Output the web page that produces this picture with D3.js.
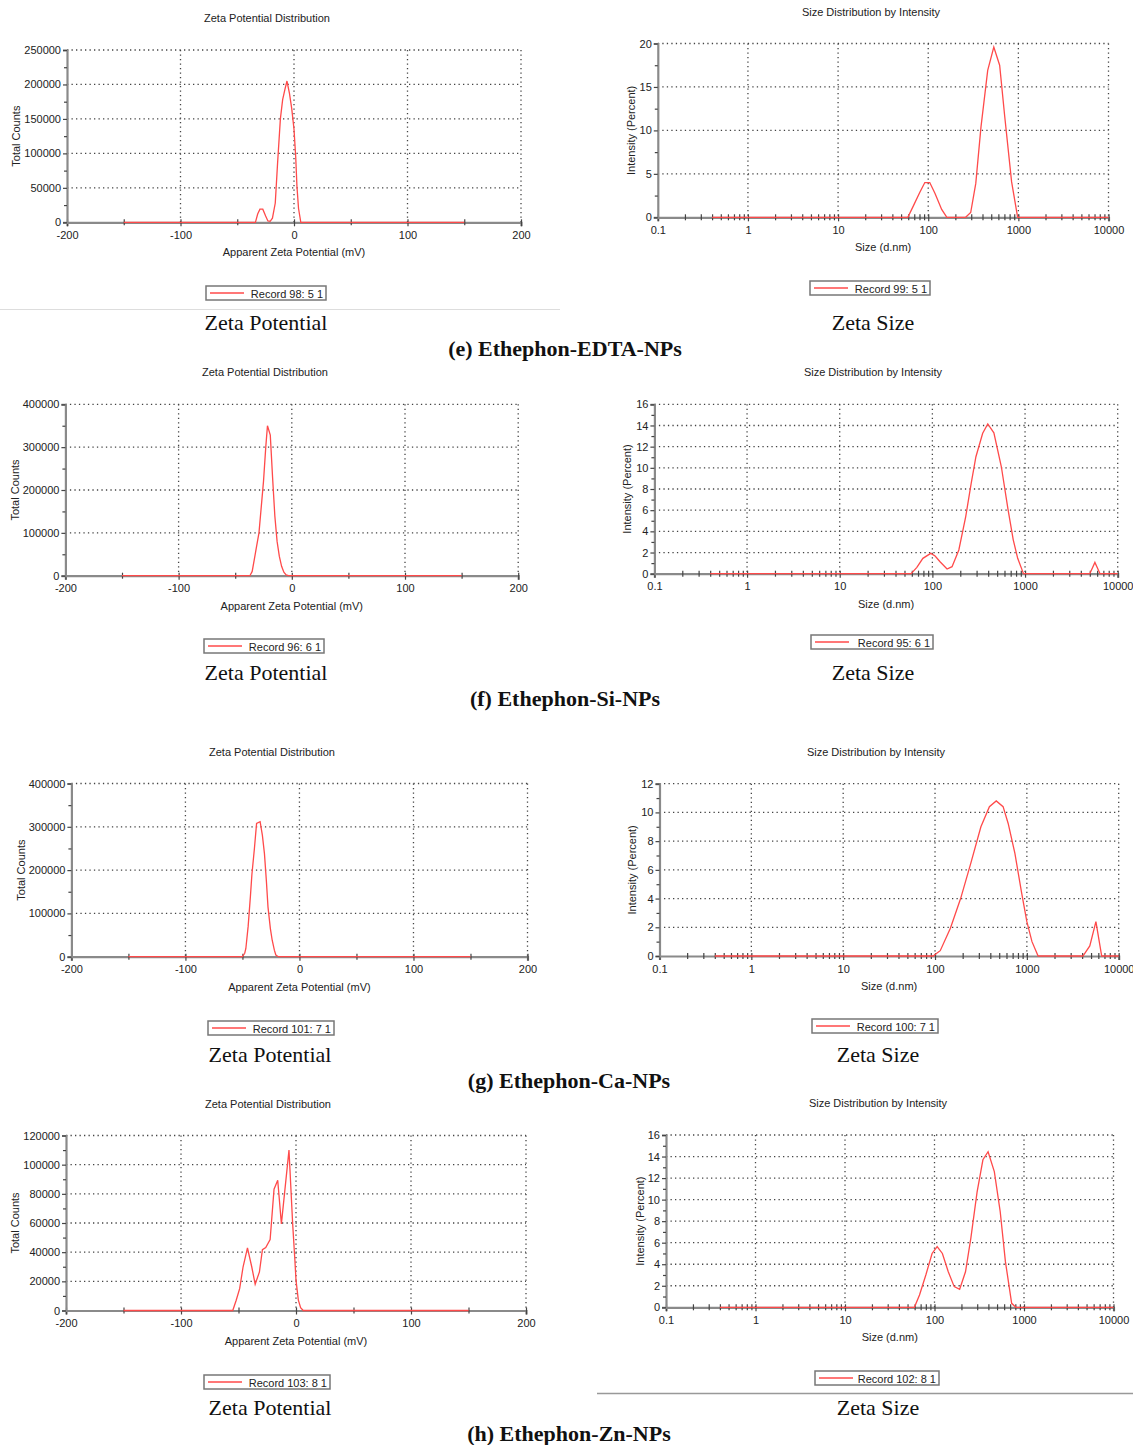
<!DOCTYPE html>
<html>
<head>
<meta charset="utf-8">
<script src="https://cdn.jsdelivr.net/npm/d3@7"></script>
<style>
  body { margin: 0; background: #fff; }
  svg text { font-family: "Liberation Sans", Arial, sans-serif; fill: #222; }
  svg text.serif { font-family: "Liberation Serif", "Times New Roman", serif; fill: #111; }
</style>
</head>
<body>
<script>
// ---- data: [mV, total counts] and [size d.nm, intensity %] ----
const zetaEdta = [[-150,0],[-34,0],[-32,12000],[-30,19000],[-27.5,19000],[-25,9000],[-23,2000],[-21,1500],[-19,6000],
  [-16.5,28000],[-14.5,85000],[-12,150000],[-10,178000],[-8,193000],[-6.2,205000],[-4,187000],[-2,165000],
  [0,135000],[1.5,95000],[2.6,52000],[4,20000],[6,0],[150,0]];
const zetaSi = [[-150,0],[-37,0],[-35,10000],[-33,40000],[-31,70000],[-29,100000],[-27,160000],[-25,220000],
  [-23,300000],[-21.5,350000],[-19,328000],[-17,230000],[-15,140000],[-13,80000],[-11,45000],[-9,22000],
  [-7,8000],[-5,2000],[-3,0],[150,0]];
const zetaCa = [[-150,0],[-50,0],[-48,8000],[-47,19000],[-45,70000],[-43,140000],[-41.7,190000],[-39.5,250000],
  [-37.6,308000],[-34.5,312000],[-32.5,280000],[-30.7,238000],[-29,175000],[-27.6,115000],[-25.5,65000],
  [-23.9,38000],[-22,15000],[-20.7,4000],[-18.5,0],[150,0]];
const zetaZn = [[-150,0],[-55,0],[-52,7000],[-49,15000],[-46,30000],[-42.2,43000],[-38.5,30000],[-35.5,18000],
  [-31.8,26500],[-29.2,41700],[-26.3,43100],[-22.5,48700],[-19.1,83200],[-15.9,89300],[-12.7,59400],
  [-6.1,110000],[-2.9,59400],[-1,35000],[0,20800],[2,7300],[4,2000],[6.3,0],[150,0]];

const sizeEdta = [[0.4,0],[59.4,0],[67.6,1.2],[80.5,2.85],[91.7,4.0],[104,4.0],[119,2.75],[141,0.9],[161,0],
  [260,0],[296,0.55],[337,3.9],[385,10.4],[457,16.9],[534,19.6],[620,17.5],[706,11.6],[841,4.1],[982,0],[10000,0]];
const sizeSi = [[0.4,0],[59,0],[68,0.6],[79,1.45],[96,1.92],[107,1.67],[121,1.13],[144,0.44],[163,0.66],[193,2.24],
  [229,5.4],[262,8.5],[295,11.05],[349,13.26],[396,14.14],[461,13.3],[555,10.1],[657,6.0],[746,3.2],[833,1.45],
  [962,0],[5000,0],[5675,1.07],[6445,0],[10000,0]];
const sizeCa = [[0.4,0],[96,0],[100,0.1],[114,0.37],[147,1.93],[190,4.0],[245,6.45],[316,9.0],[391,10.4],[464,10.8],
  [551,10.4],[626,9.23],[741,7.15],[879,4.36],[1000,2.39],[1137,1.0],[1326,0],[4080,0],[4845,0.7],[5648,2.39],
  [6530,0],[10000,0]];
const sizeZn = [[0.4,0],[59.6,0],[68,1.15],[80,3.0],[94,5.0],[107,5.63],[122.5,5.0],[142.5,3.3],[166,1.92],[191,1.67],
  [222,3.3],[254.5,6.4],[299,10.7],[347.5,13.7],[397,14.45],[466,12.6],[542,8.9],[620,4.24],[728,0.37],[811,0],[10000,0]];

const zetaTicks = [-200, -100, 0, 100, 200];
const zetaMinor = [-150, -50, 50, 150];
const sizeTicks = [0.1, 1, 10, 100, 1000, 10000];

// ---- panel placement ----
const panels = [
  {kind:"zeta", data:zetaEdta, yMax:250000, yStep:50000, left:67, right:521, top:50, bottom:222.3, titleX:267, yLabelX:16, legendX:206, legendY:286, legendW:120, record:"Record 98: 5 1"},
  {kind:"size", data:sizeEdta, yMax:20, yStep:5, left:657.8, right:1108.5, top:43.5, bottom:217.3, titleX:871, yLabelX:631, legendX:810, legendY:281, legendW:120, record:"Record 99: 5 1"},
  {kind:"zeta", data:zetaSi, yMax:400000, yStep:100000, left:65.4, right:518.2, top:404.3, bottom:575.7, titleX:265, yLabelX:15, legendX:204, legendY:639, legendW:120, record:"Record 96: 6 1"},
  {kind:"size", data:sizeSi, yMax:16, yStep:2, left:654.4, right:1117.7, top:404.3, bottom:573.7, titleX:873, yLabelX:627, legendX:811, legendY:635, legendW:122, record:"Record 95: 6 1"},
  {kind:"zeta", data:zetaCa, yMax:400000, yStep:100000, left:71.4, right:527.5, top:783.5, bottom:956.7, titleX:272, yLabelX:21, legendX:208, legendY:1021, legendW:126, record:"Record 101: 7 1"},
  {kind:"size", data:sizeCa, yMax:12, yStep:2, left:659.5, right:1118.7, top:783.7, bottom:956, titleX:876, yLabelX:632, legendX:812, legendY:1019, legendW:126, record:"Record 100: 7 1"},
  {kind:"zeta", data:zetaZn, yMax:120000, yStep:20000, left:66, right:526, top:1135.5, bottom:1310.5, titleX:268, yLabelX:15, legendX:204, legendY:1375, legendW:126, record:"Record 103: 8 1"},
  {kind:"size", data:sizeZn, yMax:16, yStep:2, left:666, right:1113.5, top:1135, bottom:1307.3, titleX:878, yLabelX:640, legendX:815, legendY:1371, legendW:124, record:"Record 102: 8 1"}
];

const captions = [
  {text:"Zeta Potential", x:266, y:330}, {text:"Zeta Size", x:873, y:330},
  {text:"Zeta Potential", x:266, y:680}, {text:"Zeta Size", x:873, y:680},
  {text:"Zeta Potential", x:270, y:1062}, {text:"Zeta Size", x:878, y:1062},
  {text:"Zeta Potential", x:270, y:1415}, {text:"Zeta Size", x:878, y:1415}
];
const groupTitles = [
  {text:"(e) Ethephon-EDTA-NPs", x:565, y:356},
  {text:"(f) Ethephon-Si-NPs", x:565, y:706},
  {text:"(g) Ethephon-Ca-NPs", x:569, y:1088},
  {text:"(h) Ethephon-Zn-NPs", x:569, y:1441}
];

const red = "#ff4a4a";
const axisGray = "#8a8a8a";

const svg = d3.select("body")
  .append("svg")
  .attr("width", 1133)
  .attr("height", 1445);

function drawPanel(p) {
  const g = svg.append("g");
  const isZeta = p.kind === "zeta";

  const x = isZeta
    ? d3.scaleLinear().domain([-200, 200]).range([p.left, p.right])
    : d3.scaleLog().domain([0.1, 10000]).range([p.left, p.right]);
  const y = d3.scaleLinear().domain([0, p.yMax]).range([p.bottom, p.top]);

  const xMajor = isZeta ? zetaTicks : sizeTicks;
  const xMinor = isZeta ? zetaMinor : x.ticks().filter((d) => !sizeTicks.some((t) => Math.abs(t - d) / t < 1e-6));
  const yMajor = d3.range(0, p.yMax + p.yStep / 2, p.yStep);
  const yMinor = d3.range(p.yStep / 2, p.yMax, p.yStep);

  // dotted grid
  g.selectAll(".gx")
    .data(xMajor.slice(1))
    .join("line")
    .attr("x1", (d) => x(d)).attr("x2", (d) => x(d))
    .attr("y1", p.top).attr("y2", p.bottom)
    .attr("stroke", "#444").attr("stroke-width", 1.3)
    .attr("stroke-dasharray", "1.3,3.2");
  g.selectAll(".gy")
    .data(yMajor.slice(1))
    .join("line")
    .attr("x1", p.left).attr("x2", p.right)
    .attr("y1", (d) => y(d)).attr("y2", (d) => y(d))
    .attr("stroke", "#444").attr("stroke-width", 1.3)
    .attr("stroke-dasharray", "1.3,3.2");

  // x axis
  const xAxis = g.append("g")
    .attr("transform", "translate(0," + p.bottom + ")")
    .call(d3.axisBottom(x).tickValues(xMajor).tickSize(4).tickPadding(5)
      .tickFormat((d) => String(d)));
  const xMinorAxis = g.append("g")
    .attr("transform", "translate(0," + p.bottom + ")")
    .call(d3.axisBottom(x).tickValues(xMinor).tickSize(3).tickFormat(""));
  xMinorAxis.select(".domain").remove();
  [xAxis, xMinorAxis].forEach((a) => {
    a.selectAll(".tick line").attr("y1", -3).attr("stroke", "#444").attr("stroke-width", 1.2);
  });
  xAxis.select(".domain").attr("stroke", axisGray).attr("stroke-width", 2.2);
  xAxis.selectAll(".tick text").style("font-size", "11px").attr("fill", "#222");

  // y axis
  const yAxis = g.append("g")
    .attr("transform", "translate(" + p.left + ",0)")
    .call(d3.axisLeft(y).tickValues(yMajor).tickSize(4).tickPadding(2)
      .tickFormat(d3.format("d")));
  const yMinorAxis = g.append("g")
    .attr("transform", "translate(" + p.left + ",0)")
    .call(d3.axisLeft(y).tickValues(yMinor).tickSize(3).tickFormat(""));
  yMinorAxis.select(".domain").remove();
  [yAxis, yMinorAxis].forEach((a) => {
    a.selectAll(".tick line").attr("stroke", "#444").attr("stroke-width", 1.2);
  });
  yAxis.select(".domain").attr("stroke", axisGray).attr("stroke-width", 2.2);
  yAxis.selectAll(".tick text").style("font-size", "11px").attr("fill", "#222");

  // data line
  g.append("path")
    .datum(p.data)
    .attr("d", d3.line().x((d) => x(d[0])).y((d) => y(d[1])))
    .attr("fill", "none")
    .attr("stroke", red)
    .attr("stroke-width", 1.3);

  // titles
  g.append("text")
    .attr("x", p.titleX).attr("y", p.top - 28)
    .attr("text-anchor", "middle")
    .style("font-size", "11px")
    .text(isZeta ? "Zeta Potential Distribution" : "Size Distribution by Intensity");
  g.append("text")
    .attr("x", (p.left + p.right) / 2).attr("y", p.bottom + 34)
    .attr("text-anchor", "middle")
    .style("font-size", "11px")
    .text(isZeta ? "Apparent Zeta Potential (mV)" : "Size (d.nm)");
  g.append("text")
    .attr("transform", "translate(" + (p.yLabelX + 4) + "," + (p.top + p.bottom) / 2 + ") rotate(-90)")
    .attr("text-anchor", "middle")
    .style("font-size", "11px")
    .text(isZeta ? "Total Counts" : "Intensity (Percent)");

  // legend
  const lg = g.append("g").attr("transform", "translate(" + p.legendX + "," + p.legendY + ")");
  lg.append("rect")
    .attr("width", p.legendW).attr("height", 14)
    .attr("fill", "#fff").attr("stroke", "#777").attr("stroke-width", 1.5);
  lg.append("line")
    .attr("x1", 4).attr("x2", 38).attr("y1", 7).attr("y2", 7)
    .attr("stroke", red).attr("stroke-width", 1.3);
  lg.append("text")
    .attr("x", p.legendW - 3).attr("y", 11.5)
    .attr("text-anchor", "end")
    .style("font-size", "11px")
    .text(p.record);
}

panels.forEach((p) => drawPanel(p));

// separator rules
svg.append("line").attr("x1", 0).attr("x2", 560).attr("y1", 309.5).attr("y2", 309.5)
  .attr("stroke", "#ddd").attr("stroke-width", 1);
svg.append("line").attr("x1", 597).attr("x2", 1133).attr("y1", 1393.5).attr("y2", 1393.5)
  .attr("stroke", "#999").attr("stroke-width", 1.5);

svg.selectAll(".caption")
  .data(captions)
  .join("text")
  .attr("class", "serif")
  .attr("x", (d) => d.x).attr("y", (d) => d.y)
  .attr("text-anchor", "middle")
  .style("font-size", "22px")
  .text((d) => d.text);

svg.selectAll(".group")
  .data(groupTitles)
  .join("text")
  .attr("class", "serif")
  .attr("x", (d) => d.x).attr("y", (d) => d.y)
  .attr("text-anchor", "middle")
  .style("font-size", "22px")
  .style("font-weight", "bold")
  .text((d) => d.text);
</script>
</body>
</html>
